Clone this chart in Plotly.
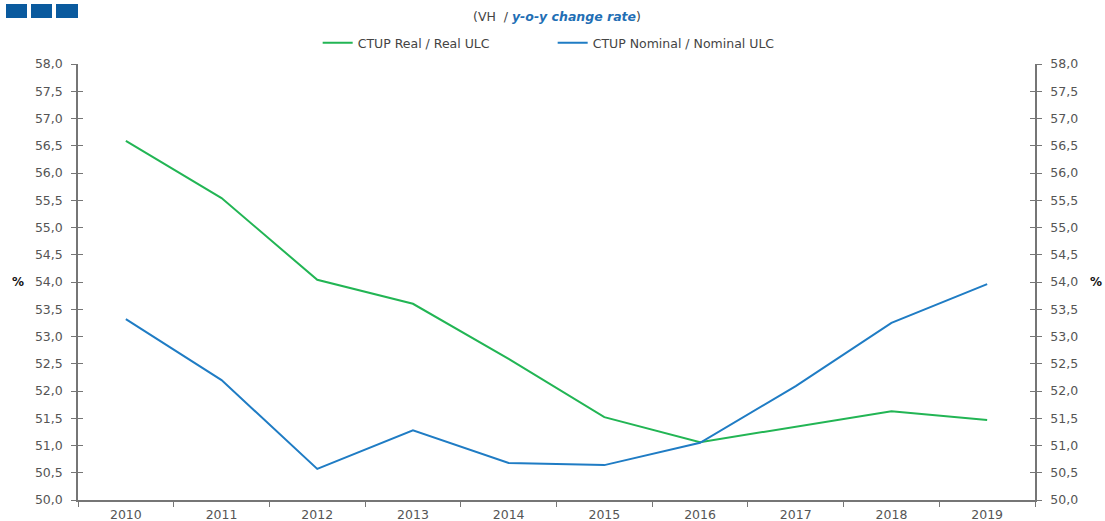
import plotly.graph_objects as go

years = ["2010", "2011", "2012", "2013", "2014", "2015", "2016", "2017", "2018", "2019"]
real_ulc = [56.59, 55.54, 54.04, 53.60, 52.59, 51.52, 51.06, 51.34, 51.63, 51.47]
nominal_ulc = [53.32, 52.20, 50.57, 51.28, 50.68, 50.64, 51.05, 52.09, 53.25, 53.96]
y_range = [50, 58]

GREEN = "#22b554"
BLUE = "#1f7cc4"
AXIS = "#767676"
TXT = "#555555"
FONT = "DejaVu Sans, Verdana, sans-serif"
FS = 12.5

fig = go.Figure()
fig.add_trace(go.Scatter(x=years, y=real_ulc, mode="lines", name="CTUP Real / Real ULC",
                         line=dict(color=GREEN, width=2)))
fig.add_trace(go.Scatter(x=years, y=nominal_ulc, mode="lines", name="CTUP Nominal / Nominal ULC",
                         line=dict(color=BLUE, width=2)))
for ax in ["y2", "y3", "y4"]:
    fig.add_trace(go.Scatter(x=years, y=real_ulc, yaxis=ax, mode="lines", showlegend=False,
                             line=dict(color="rgba(0,0,0,0)"), hoverinfo="skip"))

yax_common = dict(range=y_range, dtick=0.5, tickformat=".1f", showgrid=False, zeroline=False,
                  tickfont=dict(family=FONT, size=FS, color=TXT), linecolor=AXIS, linewidth=1.5,
                  showline=True, ticks="outside", ticklen=5, tickcolor=AXIS, tickwidth=1,
                  automargin=False, ticklabelstandoff=6)
yax_inner = dict(range=y_range, dtick=0.5, overlaying="y", anchor="x", showgrid=False,
                 zeroline=False, showline=False, showticklabels=False, ticks="inside", ticklen=5,
                 tickcolor=AXIS, automargin=False)

fig.update_layout(
    width=1105, height=521,
    margin=dict(l=78, r=70, t=64, b=21, autoexpand=False),
    paper_bgcolor="white", plot_bgcolor="white",
    separators=",.",
    font=dict(family=FONT, size=FS, color=TXT),
    xaxis=dict(type="category", range=[-0.5, 9.5], showgrid=False, zeroline=False, showline=True,
               linecolor=AXIS, linewidth=1.5, ticks="outside", ticklen=5, tickcolor=AXIS,
               tickson="boundaries", automargin=False, ticklabelstandoff=2,
               tickfont=dict(family=FONT, size=FS, color=TXT)),
    yaxis=dict(**yax_common, side="left"),
    yaxis2=dict(**yax_common, side="right", overlaying="y", anchor="x"),
    yaxis3=dict(**yax_inner, side="left"),
    yaxis4=dict(**yax_inner, side="right"),
    legend=dict(orientation="h", x=0.496, xanchor="center", y=1.048, yanchor="middle",
                font=dict(family=FONT, size=FS, color="#444444"), itemwidth=30,
                traceorder="normal", entrywidthmode="pixels", entrywidth=190),
    showlegend=True,
)

fig.add_annotation(xref="paper", yref="paper", x=0.5, y=1.108, yanchor="middle", showarrow=False,
                   text="(VH  / <b><i><span style='color:#1f6fb5'>y-o-y change rate</span></i></b>)",
                   font=dict(family=FONT, size=FS, color="#444444"))
fig.add_annotation(xref="paper", yref="y", x=-0.063, y=54.0, showarrow=False, text="<b>%</b>",
                   font=dict(family=FONT, size=12, color="#111111"), xanchor="center")
fig.add_annotation(xref="paper", yref="y", x=1.064, y=54.0, showarrow=False, text="<b>%</b>",
                   font=dict(family=FONT, size=12, color="#111111"), xanchor="center")

# logo squares
for x0, x1 in [(6, 27), (31, 52), (56, 78)]:
    fig.add_shape(type="rect", xref="paper", yref="paper",
                  x0=(x0 - 78) / 957, x1=(x1 - 78) / 957,
                  y0=1 + (64 - 18) / 436, y1=1 + (64 - 4) / 436,
                  fillcolor="#0a5a9e", line=dict(color="#0a5a9e", width=0))

fig.write_html("out.html", config={"displayModeBar": False},
               post_script="document.body.style.margin='0px';document.body.style.overflow='hidden';")
